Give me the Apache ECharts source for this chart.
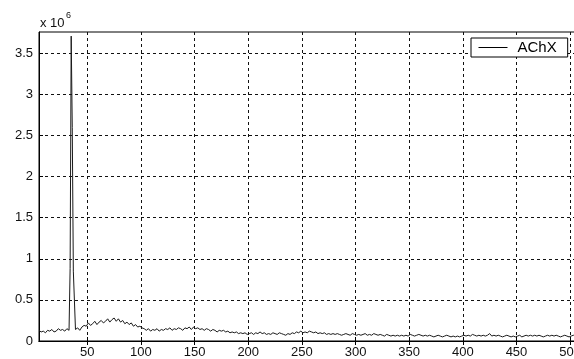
<!DOCTYPE html>
<html>
<head>
<meta charset="utf-8">
<script src="https://cdn.jsdelivr.net/npm/echarts@6/dist/echarts.min.js"></script>
<style>
  html, body { margin: 0; padding: 0; background: #fff; overflow: hidden; }
  /* the plot box runs a few pixels past the visible window on the right */
  #chart { width: 584px; height: 359px; }
</style>
</head>
<body>
<div id="chart"></div>
<script>
// Amplitude spectrum of channel AChX, amplitudes in units of 1e6.
const seriesName = 'AChX';

// Broadband floor, sampled every 2 bins starting at bin 5.
const floorStart = 5;
const floorStep = 2;
const floorAmp = [
  0.13, 0.11, 0.12, 0.10, 0.13, 0.12, 0.14, 0.11, 0.12, 0.15, // 5..23
  0.13, 0.14, 0.12, 0.15, 0.13, 0.14, 0.15, 0.14, 0.16, 0.13, // 25..43
  0.17, 0.19, 0.18, 0.22, 0.19, 0.21, 0.24, 0.20, 0.23, 0.25, // 45..63
  0.22, 0.24, 0.27, 0.23, 0.26, 0.28, 0.24, 0.27, 0.23, 0.25, // 65..83
  0.21, 0.23, 0.20, 0.22, 0.18, 0.20, 0.17, 0.18, 0.16, 0.15, // 85..103
  0.13, 0.15, 0.12, 0.14, 0.13, 0.15, 0.12, 0.14, 0.13, 0.15, // 105..123
  0.14, 0.16, 0.13, 0.15, 0.14, 0.16, 0.15, 0.13, 0.16, 0.15, // 125..143
  0.17, 0.14, 0.17, 0.15, 0.16, 0.14, 0.15, 0.13, 0.15, 0.14, // 145..163
  0.12, 0.14, 0.13, 0.11, 0.13, 0.12, 0.13, 0.11, 0.12, 0.10, // 165..183
  0.11, 0.10, 0.11, 0.09, 0.10, 0.09, 0.10, 0.08, 0.09, 0.10, // 185..203
  0.08, 0.10, 0.09, 0.11, 0.09, 0.10, 0.08, 0.09, 0.08, 0.10, // 205..223
  0.09, 0.08, 0.10, 0.09, 0.08, 0.07, 0.09, 0.08, 0.10, 0.09, // 225..243
  0.11, 0.10, 0.12, 0.10, 0.11, 0.10, 0.12, 0.11, 0.10, 0.11, // 245..263
  0.09, 0.10, 0.09, 0.10, 0.08, 0.09, 0.08, 0.09, 0.08, 0.09, // 265..283
  0.08, 0.07, 0.08, 0.09, 0.08, 0.07, 0.09, 0.08, 0.07, 0.08, // 285..303
  0.07, 0.08, 0.09, 0.07, 0.08, 0.07, 0.09, 0.08, 0.07, 0.08, // 305..323
  0.07, 0.06, 0.08, 0.07, 0.06, 0.07, 0.06, 0.07, 0.06, 0.07, // 325..343
  0.06, 0.07, 0.06, 0.08, 0.07, 0.06, 0.07, 0.08, 0.07, 0.06, // 345..363
  0.07, 0.06, 0.07, 0.06, 0.05, 0.06, 0.07, 0.06, 0.05, 0.06, // 365..383
  0.07, 0.06, 0.05, 0.06, 0.05, 0.06, 0.05, 0.06, 0.07, 0.06, // 385..403
  0.07, 0.06, 0.08, 0.07, 0.06, 0.07, 0.06, 0.07, 0.06, 0.07, // 405..423
  0.09, 0.06, 0.07, 0.06, 0.07, 0.06, 0.05, 0.06, 0.07, 0.06, // 425..443
  0.05, 0.06, 0.05, 0.06, 0.07, 0.05, 0.06, 0.07, 0.06, 0.07, // 445..463
  0.06, 0.07, 0.06, 0.07, 0.06, 0.05, 0.06, 0.07, 0.06, 0.07, // 465..483
  0.06, 0.07, 0.06, 0.05, 0.06, 0.07, 0.06, 0.05, 0.06, 0.07, // 485..503
  0.06, 0.05, 0.06, 0.06                                      // 505..511
];

// Narrow tonal peak, every bin.
const peakBins = [34, 35, 36, 37];
const peakAmp = [0.88, 3.71, 2.60, 0.85];

// Axis ticks.
const xTicks = [50, 100, 150, 200, 250, 300, 350, 400, 450, 500];
const yTicks = [0, 0.5, 1, 1.5, 2, 2.5, 3, 3.5];

// Merge floor and peak samples into one ordered trace.
const points = [];
floorAmp.forEach((v, i) => {
  const bin = floorStart + i * floorStep;
  if (bin < peakBins[0] || bin > peakBins[peakBins.length - 1]) points.push([bin, v]);
});
peakBins.forEach((b, i) => points.push([b, peakAmp[i]]));
points.sort((a, b) => a[0] - b[0]);

const FONT = '"Liberation Sans", Arial, sans-serif';
const dash = { color: '#111', width: 1, type: [3, 3] };

const chart = echarts.init(document.getElementById('chart'), null, { renderer: 'canvas' });
chart.setOption({
  animation: false,
  backgroundColor: '#fff',
  grid: { left: 39, top: 32, right: 1, bottom: 14, show: true, borderColor: '#000', borderWidth: 1, containLabel: false },
  legend: {
    show: true,
    left: 471, top: 38,
    padding: [2, 11, 2, 7],
    itemWidth: 29, itemHeight: 14,
    borderColor: '#000', borderWidth: 1,
    backgroundColor: '#fff',
    itemStyle: { opacity: 0 },
    lineStyle: { color: '#000', width: 1 },
    textStyle: { fontFamily: FONT, fontSize: 15, color: '#000', padding: [0, 0, 0, 5] },
    data: [seriesName]
  },
  graphic: [
    { type: 'text', left: 40, top: 17, style: { text: 'x 10', font: '13px ' + FONT, fill: '#111' } },
    { type: 'text', left: 66, top: 11, style: { text: '6', font: '9px ' + FONT, fill: '#111' } }
  ],
  xAxis: [{
    type: 'value', min: 5, max: 512,
    axisLine: { show: true, onZero: false, lineStyle: { color: '#000', width: 1 } },
    axisTick: { show: true, inside: true, length: 4, customValues: xTicks, lineStyle: { color: '#000' } },
    axisLabel: { customValues: xTicks, margin: 5, fontFamily: FONT, fontSize: 13, color: '#111' },
    splitLine: { show: true, lineStyle: dash }
  }, {
    type: 'value', min: 5, max: 512, position: 'top',
    axisLine: { show: true, lineStyle: { color: '#000', width: 1 } },
    axisTick: { show: true, inside: true, length: 4, customValues: xTicks, lineStyle: { color: '#000' } },
    axisLabel: { show: false },
    splitLine: { show: false }
  }],
  yAxis: {
    type: 'value', min: 0, max: 3.76,
    axisLine: { show: true, onZero: false, lineStyle: { color: '#000', width: 1 } },
    axisTick: { show: true, inside: true, length: 4, customValues: yTicks, lineStyle: { color: '#000' } },
    axisLabel: { customValues: yTicks, margin: 6, fontFamily: FONT, fontSize: 13, color: '#111' },
    splitLine: { show: true, lineStyle: dash }
  },
  series: [{
    name: seriesName,
    type: 'line',
    xAxisIndex: 0,
    data: points,
    symbol: 'none',
    showSymbol: false,
    lineStyle: { color: '#1a1a1a', width: 1 },
    itemStyle: { color: '#1a1a1a' },
    clip: true
  }]
});
</script>
</body>
</html>
